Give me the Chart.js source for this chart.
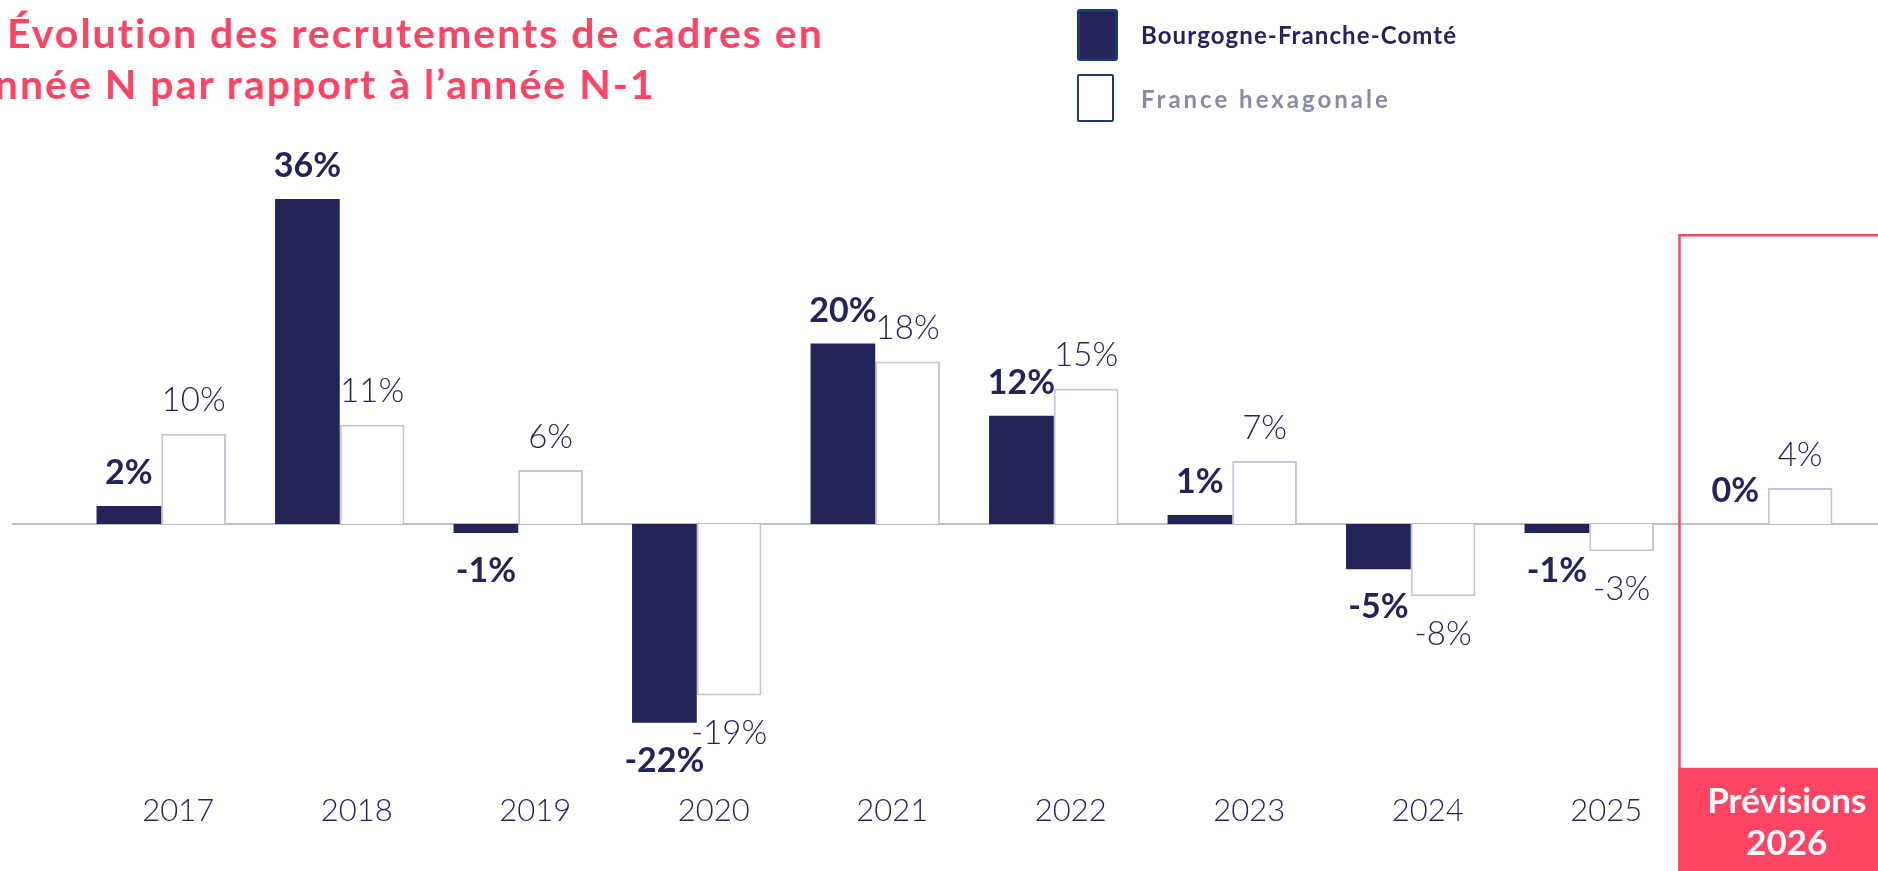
<!DOCTYPE html>
<html lang="fr">
<head>
<meta charset="utf-8">
<script src="https://cdn.jsdelivr.net/npm/chart.js@4.4.1/dist/chart.umd.min.js"></script>
<style>
html,body{margin:0;padding:0;background:#fff;overflow:hidden;}
#wrap{position:relative;width:1878px;height:871px;overflow:hidden;}
#chart{position:absolute;left:0;top:0;}
.title{position:absolute;font-family:Lato,sans-serif;font-weight:bold;font-size:41px;letter-spacing:2px;line-height:1;color:#ff4466;white-space:nowrap;}
.swatch{position:absolute;box-sizing:border-box;border-radius:3px;}
.legend-text{position:absolute;font-family:Lato,sans-serif;font-weight:bold;font-size:24px;line-height:1;white-space:nowrap;}
</style>
</head>
<body>
<div id="wrap">
  <canvas id="chart" width="1878" height="871"></canvas>
  <div class="title" id="title-1" style="left:7px;top:12px;"></div>
  <div class="title" id="title-2" style="left:-28px;top:63px;"></div>
  <div class="swatch" style="left:1077px;top:9px;width:41px;height:52px;background:#252459;border:3px solid #1f3a6e;"></div>
  <div class="swatch" style="left:1077px;top:74px;width:37px;height:48px;background:#fff;border:2px solid #1f3a6e;border-radius:2px;"></div>
  <div class="legend-text" id="legend-1" style="left:1141px;top:23px;color:#252459;letter-spacing:1.1px;"></div>
  <div class="legend-text" id="legend-2" style="left:1141px;top:87px;color:#8a89a6;letter-spacing:3px;"></div>
</div>
<script>
/* ===================================================== */
/* DONNEES */
/* ===================================================== */

const titleLines = ["Évolution des recrutements de cadres en", "année N par rapport à l’année N-1"];

const years = ["2017","2018","2019","2020","2021","2022","2023","2024","2025","2026"];

const seriesNames = ["Bourgogne-Franche-Comté", "France hexagonale"];

const bfcValues = [2, 36, -1, -22, 20, 12, 1, -5, -1, 0];

const franceValues = [10, 11, 6, -19, 18, 15, 7, -8, -3, 4];

const forecastLabel = ["Prévisions", "2026"];

const NAVY = "#252459";
const PINK = "#ff4466";

document.getElementById("title-1").innerText = titleLines[0];
document.getElementById("title-2").innerText = titleLines[1];
document.getElementById("legend-1").innerText = seriesNames[0];
document.getElementById("legend-2").innerText = seriesNames[1];

/* ===================================================== */
/* LIGNE ZERO */
/* ===================================================== */

const zeroLinePlugin = {
  id: "zeroLine",
  beforeDatasetsDraw(chart){
    const ctx = chart.ctx;
    const y = chart.scales.y.getPixelForValue(0);
    ctx.save();
    ctx.strokeStyle = "#bcbccd";
    ctx.lineWidth = 2;
    ctx.beginPath();
    ctx.moveTo(12, y);
    ctx.lineTo(chart.width, y);
    ctx.stroke();
    ctx.restore();
  }
};

/* ===================================================== */
/* CADRE PREVISIONS */
/* ===================================================== */

const forecastPlugin = {
  id: "forecast",
  afterDatasetsDraw(chart){
    const ctx = chart.ctx;
    const xs = chart.scales.x;
    const ys = chart.scales.y;
    const i = years.length - 1;
    const half = (xs.getPixelForValue(1) - xs.getPixelForValue(0)) / 2;
    const left = xs.getPixelForValue(i) - half + 1;
    const top = ys.getPixelForValue(32);
    const bandTop = ys.getPixelForValue(-27);

    ctx.save();
    ctx.strokeStyle = PINK;
    ctx.lineWidth = 2.5;
    ctx.strokeRect(left, top, chart.width - left + 20, chart.height);
    ctx.fillStyle = PINK;
    ctx.fillRect(left - 1.25, bandTop, chart.width - left + 20, chart.height - bandTop);

    ctx.fillStyle = "#ffffff";
    ctx.font = "bold 35px Lato";
    ctx.textAlign = "center";
    ctx.textBaseline = "middle";
    const cx = xs.getPixelForValue(i) + 19;
    ctx.fillText(forecastLabel[0], cx, bandTop + 34);
    ctx.fillText(forecastLabel[1], cx, bandTop + 76);
    ctx.restore();
  }
};

/* ===================================================== */
/* ETIQUETTES */
/* ===================================================== */

const valueLabelPlugin = {
  id: "valueLabels",
  afterDatasetsDraw(chart){
    const ctx = chart.ctx;
    ctx.save();
    ctx.fillStyle = NAVY;
    ctx.textAlign = "center";
    ctx.textBaseline = "middle";
    chart.data.datasets.forEach((ds, di) => {
      const meta = chart.getDatasetMeta(di);
      ctx.font = di === 0 ? "bold 34px Lato" : "300 33px Lato";
      meta.data.forEach((bar, i) => {
        const v = ds.data[i];
        const y = v >= 0 ? bar.y - 33 : bar.y + 38;
        ctx.fillText(v + "%", bar.x, y);
      });
    });
    ctx.restore();
  }
};

/* ===================================================== */
/* GRAPHIQUE */
/* ===================================================== */

const chart = new Chart(
document.getElementById("chart"),
{
  type: "bar",
  data: {
    labels: years,
    datasets: [
      {
        label: seriesNames[0],
        data: bfcValues,
        backgroundColor: NAVY,
        borderWidth: 0,
        categoryPercentage: 0.725,
        barPercentage: 1
      },
      {
        label: seriesNames[1],
        data: franceValues,
        backgroundColor: "#ffffff",
        borderColor: "#c5c5d6",
        borderWidth: 2,
        categoryPercentage: 0.725,
        barPercentage: 1
      }
    ]
  },
  options: {
    responsive: false,
    animation: false,
    layout: {
      padding: { left: 72, right: 21, top: 163, bottom: 16 }
    },
    plugins: {
      legend: { display: false },
      tooltip: { enabled: false }
    },
    scales: {
      x: {
        grid: { display: false, drawTicks: false },
        border: { display: false },
        ticks: {
          color: NAVY,
          font: { family: "Lato", size: 31, weight: "300" },
          padding: 25,
          labelOffset: 17,
          maxRotation: 0,
          autoSkip: false,
          callback: (v, i) => i === years.length - 1 ? "" : years[i]
        }
      },
      y: {
        display: false,
        min: -27,
        max: 40
      }
    }
  },
  plugins: [zeroLinePlugin, forecastPlugin, valueLabelPlugin]
});
</script>
</body>
</html>
